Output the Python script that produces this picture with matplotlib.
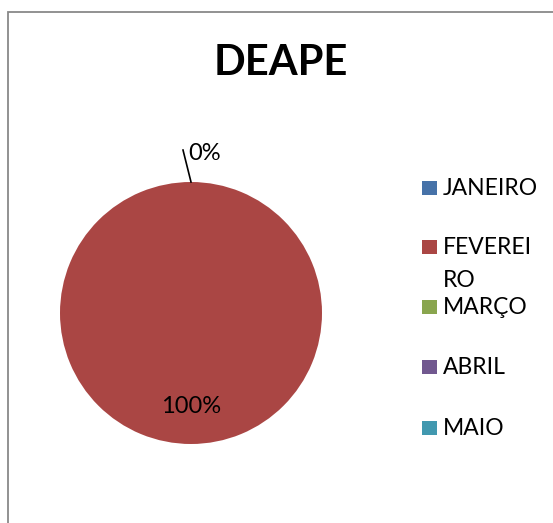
import matplotlib.pyplot as plt
from matplotlib.patches import Rectangle
import numpy as np

# data
title = 'DEAPE'
months = ['JANEIRO', 'FEVEREIRO', 'MARÇO', 'ABRIL', 'MAIO']
legend_text = ['JANEIRO', 'FEVEREI\nRO', 'MARÇO', 'ABRIL', 'MAIO']
values = [0, 100, 0, 0, 0]
colors = ['#4672A8', '#AA4644', '#89A54E', '#71588F', '#4198AF']

plt.rcParams['font.family'] = ['Lato', 'DejaVu Sans']

W, H = 553, 523
fig = plt.figure(figsize=(W / 100, H / 100), dpi=100)

# chart border (left and top visible, runs off right/bottom)
fig.patches.append(Rectangle((8 / W, -0.1), 1.2, (H - 12) / H + 0.1,
                             transform=fig.transFigure, fill=False,
                             edgecolor='#898989', linewidth=1.3))

fig.text(281 / W, 1 - 63 / H, title, ha='center', va='center',
         fontsize=30, fontweight='bold')

# pie, centre (191, 313) px, radius 131 px
R = 131
half = 1.5 * R
ax = fig.add_axes([(191 - half) / W, (H - 313 - half) / H, 2 * half / W, 2 * half / H])
wedges, _ = ax.pie(values, colors=colors, startangle=90, counterclock=False,
                   radius=1, wedgeprops=dict(linewidth=0))
ax.set_xlim(-1.5, 1.5)
ax.set_ylim(-1.5, 1.5)
ax.axis('off')

# percentage labels
total = sum(values)
for w, v in zip(wedges, values):
    pct = 100 * v / total
    ang = np.deg2rad((w.theta1 + w.theta2) / 2)
    if pct > 0:
        ax.text(0.71 * np.cos(ang), 0.71 * np.sin(ang), f'{pct:.0f}%',
                ha='center', va='center', fontsize=17)
# zero slices sit at the top, only one label visible
zero = [w for w, v in zip(wedges, values) if v == 0][0]
ang = np.deg2rad(zero.theta1)
ax.plot([np.cos(ang), -0.061], [np.sin(ang), 1.244], color='black', lw=1.2)
ax.text(-0.023, 1.218, '0%', ha='left', va='center', fontsize=17)

# legend
row_y = [188, 247, 307, 367, 428]
for lab, c, y in zip(legend_text, colors, row_y):
    fig.patches.append(Rectangle((422 / W, 1 - (y + 7) / H), 15 / W, 14 / H,
                                 transform=fig.transFigure, facecolor=c,
                                 edgecolor='none'))
    fig.text(443 / W, 1 - (y - 10) / H, lab, ha='left', va='top',
             fontsize=16.5, linespacing=1.7)

fig.savefig('out.png', dpi=100)
